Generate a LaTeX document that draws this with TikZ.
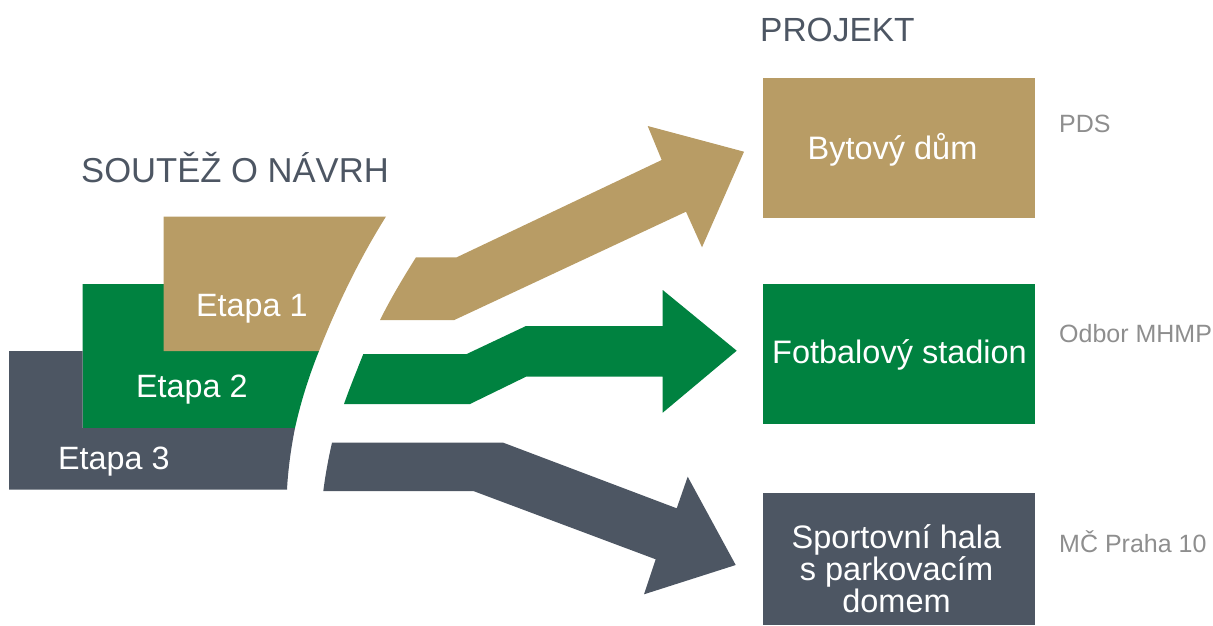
\documentclass[tikz,border=0pt]{standalone}
\usepackage{fontspec}
\setmainfont{Liberation Sans}
\definecolor{gold}{HTML}{B89C65}
\definecolor{grn}{HTML}{008240}
\definecolor{slate}{HTML}{4D5663}
\definecolor{sidegray}{HTML}{8E8E8E}
\tikzset{
  boxnode/.style={draw=none,inner sep=0pt,minimum width=271.5pt,align=center,text=white,font=\fontsize{32.5}{32}\selectfont},
  heading/.style={anchor=base west,inner sep=0pt,text=slate},
  sidelabel/.style={anchor=base west,inner sep=0pt,text=sidegray,font=\fontsize{25}{30}\selectfont},
  etapa/.style={anchor=base west,inner sep=0pt,text=white,font=\fontsize{32.3}{36}\selectfont},
}
\begin{document}
\begin{tikzpicture}[x=1pt,y=-1pt]
\useasboundingbox (0,0) rectangle (1213,625);
% stacked stages
\fill[grn] (82.5,284) -- (200,284) -- (200,351) -- (319,351) .. controls (309,376) and (301,401) .. (295,428) -- (82.5,428) -- cycle;
\fill[slate] (9,351) -- (82.5,351) -- (82.5,428) -- (295,428) .. controls (291,448) and (288,470) .. (287,489.5) -- (9,489.5) -- cycle;
\fill[gold] (163.5,216.5) -- (386,216.5) .. controls (360,258) and (338,303) .. (319,351) -- (163.5,351) -- cycle;
% arrows
\fill[gold] (416,257.3) -- (456.7,257.3) -- (661.7,160) -- (647.7,126) -- (744,151.7) -- (702,247.3) -- (686,211.7) -- (454.3,320) -- (380,320) .. controls (391,298) and (403,278) .. (416,257.3) -- cycle;
\fill[grn] (363.3,354) -- (466.7,354) -- (526,326) -- (662.7,326) -- (662.7,290) -- (736.7,350.7) -- (662.7,412.7) -- (662.7,376.7) -- (526,376.7) -- (470,404) -- (344,404) .. controls (350,387) and (357,370) .. (363.3,354) -- cycle;
\fill[slate] (332,442.7) -- (503.3,442.7) -- (676.7,508.3) -- (687.7,476.7) -- (735.7,565) -- (644,594.3) -- (655.7,559.3) -- (473.3,491) -- (323.3,491) .. controls (325.5,474) and (328.5,458) .. (332,442.7) -- cycle;
% labels on stages
\node[etapa] (e1) at (196,316) {Etapa 1};
\node[etapa] (e2) at (136,397) {Etapa 2};
\node[etapa] (e3) at (58,469) {Etapa 3};
% headings
\node[heading,font=\fontsize{34.6}{38}\selectfont] (h1) at (81,182) {SOUTĚŽ O NÁVRH};
\node[heading,font=\fontsize{33.5}{38}\selectfont] (h2) at (760,41) {PROJEKT};
% project boxes
\fill[gold] (763.3,78) rectangle (1035,217.5);
\fill[grn] (763.3,284) rectangle (1035,423.5);
\fill[slate] (763.3,493) rectangle (1035,625);
\node[boxnode] (b1) at (892.5,149.5) {Bytový dům};
\node[boxnode] (b2) at (899.5,355) {Fotbalový stadion};
\node[boxnode] (b3) at (896.5,569) {Sportovní hala\\s parkovacím\\domem};
% side labels
\node[sidelabel] (s1) at (1059,132) {PDS};
\node[sidelabel] (s2) at (1059,342) {Odbor MHMP};
\node[sidelabel] (s3) at (1059,552) {MČ Praha 10};
\end{tikzpicture}
\end{document}
